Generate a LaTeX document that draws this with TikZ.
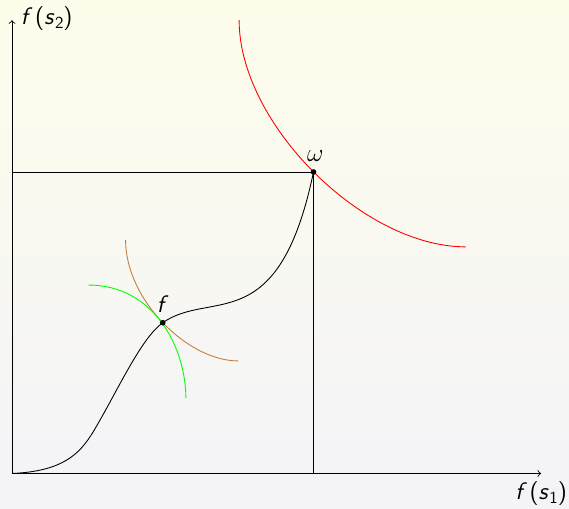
\documentclass[tikz,border=0pt]{standalone}
\definecolor{bgtop}{RGB}{254,253,235}
\definecolor{bgbot}{RGB}{243,243,248}
\newcommand{\fsl}[1]{\textsf{\textsl{#1}}}
\tikzset{
  axis/.style={->, line width=0.5pt},
  curve/.style={line width=0.5pt},
  dot/.style={circle, fill=black, inner sep=0pt, minimum size=3.2pt},
  lbl/.style={font=\fontsize{13.5}{15}\selectfont\sffamily},
}
\begin{document}
\begin{tikzpicture}[x=1cm,y=1cm]
  \shade[top color=bgtop, bottom color=bgbot] (-0.239,-0.706) rectangle (11.085,9.423);
  \useasboundingbox (-0.239,-0.706) rectangle (11.085,9.423);
  \coordinate (O) at (0,0);
  \coordinate (Y) at (0,9.02);
  \coordinate (X) at (10.53,0);
  \coordinate (Wx) at (0,6);
  \coordinate (Wy) at (6,0);
  \draw[axis] (O) -- (Y) node[lbl, right, xshift=1.5pt, yshift=1pt] (ylab) {\fsl{f}\kern1.5pt(\fsl{s}\kern0.3pt\raisebox{-2.2pt}{\fontsize{9.5}{10}\selectfont 2})};
  \draw[axis] (O) -- (X) node[lbl, below, yshift=-1pt] (xlab) {\fsl{f}\kern1.5pt(\fsl{s}\kern0.3pt\raisebox{-2.2pt}{\fontsize{9.5}{10}\selectfont 1})};
  % red curve
  \draw[curve, red] (4.52,9.02) .. controls (4.52,6.97) and (6.98,4.51) .. (9.03,4.51);
  % brown and green curves
  \draw[curve, brown] (2.26,4.65) .. controls (2.26,3.45) and (3.5,2.24) .. (4.5,2.24);
  \draw[curve, green] (1.52,3.75) .. controls (2.83,3.75) and (3.46,2.5) .. (3.46,1.5);
  % black curve
  \draw[curve] (0,0) .. controls (1.2,0.05) and (1.45,0.535) .. (1.75,1.06)
      .. controls (2.15,1.76) and (2.6,2.72) .. (3,3)
      .. controls (3.963,3.674) and (5.304,2.66) .. (6,6);
  % guide lines
  \node[dot] (w) at (6,6) {};
  \node[dot] (f) at (3,3) {};
  \draw[curve] (Wx) -- (w.center) -- (Wy);
  \node[lbl, above=2.5pt, xshift=1pt] (wl) at (w) {$\omega$};
  \node[lbl, above=2.5pt] (fl) at (f) {\fsl{f}};
\end{tikzpicture}
\end{document}
